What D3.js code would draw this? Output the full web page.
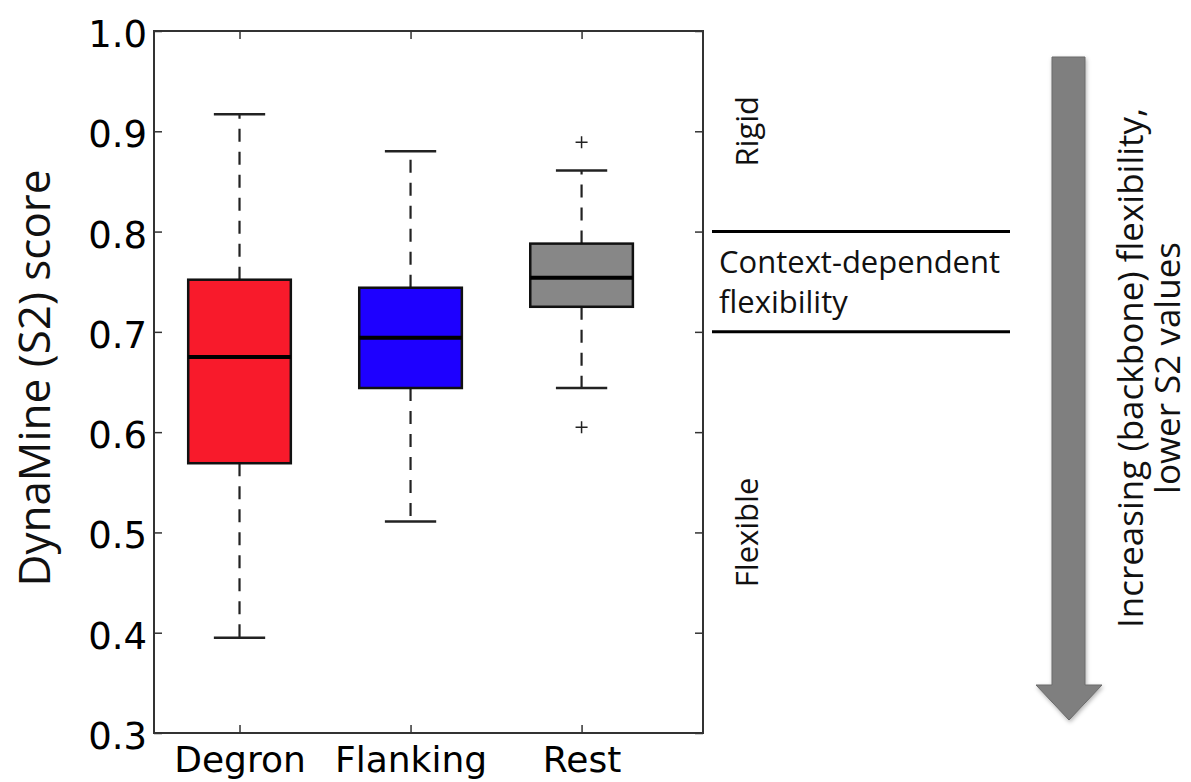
<!DOCTYPE html>
<html>
<head>
<meta charset="utf-8">
<script src="https://cdn.jsdelivr.net/npm/d3@7"></script>
<style>
    html, body { margin: 0; padding: 0; background: #fff; }
    #chart { width: 1191px; height: 782px; }
</style>
</head>
<body>
<div id="chart"></div>
<script>
// Data
const categories = ['Degron', 'Flanking', 'Rest'];
const whiskerLow = [0.395, 0.511, 0.644];
const q1 = [0.569, 0.644, 0.725];
const median = [0.675, 0.694, 0.754];
const q3 = [0.752, 0.744, 0.788];
const whiskerHigh = [0.917, 0.880, 0.861];
const outliers = [[], [], [0.889, 0.605]];
const yTicks = [0.3, 0.4, 0.5, 0.6, 0.7, 0.8, 0.9, 1.0];
const zoneBounds = [0.8, 0.7];
const zoneLabels = ['Rigid', 'Flexible'];
const zoneLabelValues = [0.9, 0.5];
const middleZoneLines = ['Context-dependent', 'flexibility'];
const arrowLines = ['Increasing (backbone) flexibility,', 'lower S2 values'];

const boxColors = ['#f81a2b', '#1e00ff', '#878787'];

const width = 1191;
const height = 782;
const frame = { left: 154, right: 703, top: 31, bottom: 733 };

const svg = d3.select('#chart')
    .append('svg')
    .attr('width', width)
    .attr('height', height)

const x = d3.scaleLinear()
    .domain([0.5, 3.71])
    .range([frame.left, frame.right])

const y = d3.scaleLinear()
    .domain([0.3, 1.0])
    .range([frame.bottom, frame.top])

const boxHalf = 0.3;
const capHalf = 0.15;

// boxes
const boxes = svg.append('g')
    .selectAll('g')
    .data(categories)
    .join('g')

// whiskers
boxes.append('line')
    .attr('x1', (d, i) => x(i + 1))
    .attr('x2', (d, i) => x(i + 1))
    .attr('y1', (d, i) => y(q3[i]))
    .attr('y2', (d, i) => y(whiskerHigh[i]))
    .attr('stroke', '#222')
    .attr('stroke-width', 2.2)
    .attr('stroke-dasharray', '13,10')

boxes.append('line')
    .attr('x1', (d, i) => x(i + 1))
    .attr('x2', (d, i) => x(i + 1))
    .attr('y1', (d, i) => y(q1[i]))
    .attr('y2', (d, i) => y(whiskerLow[i]))
    .attr('stroke', '#222')
    .attr('stroke-width', 2.2)
    .attr('stroke-dasharray', '13,10')

// caps
boxes.append('line')
    .attr('x1', (d, i) => x(i + 1 - capHalf))
    .attr('x2', (d, i) => x(i + 1 + capHalf))
    .attr('y1', (d, i) => y(whiskerHigh[i]))
    .attr('y2', (d, i) => y(whiskerHigh[i]))
    .attr('stroke', '#222')
    .attr('stroke-width', 2.5)

boxes.append('line')
    .attr('x1', (d, i) => x(i + 1 - capHalf))
    .attr('x2', (d, i) => x(i + 1 + capHalf))
    .attr('y1', (d, i) => y(whiskerLow[i]))
    .attr('y2', (d, i) => y(whiskerLow[i]))
    .attr('stroke', '#222')
    .attr('stroke-width', 2.5)

boxes.append('rect')
    .attr('x', (d, i) => x(i + 1 - boxHalf))
    .attr('width', (d, i) => x(i + 1 + boxHalf) - x(i + 1 - boxHalf))
    .attr('y', (d, i) => y(q3[i]))
    .attr('height', (d, i) => y(q1[i]) - y(q3[i]))
    .attr('fill', (d, i) => boxColors[i])
    .attr('stroke', '#111')
    .attr('stroke-width', 2.5)

// medians
boxes.append('line')
    .attr('x1', (d, i) => x(i + 1 - boxHalf))
    .attr('x2', (d, i) => x(i + 1 + boxHalf))
    .attr('y1', (d, i) => y(median[i]))
    .attr('y2', (d, i) => y(median[i]))
    .attr('stroke', '#000')
    .attr('stroke-width', 4)

// outliers
const fliers = outliers.flatMap((vals, i) => vals.map(v => ({ pos: i + 1, v })));
svg.append('g')
    .selectAll('path')
    .data(fliers)
    .join('path')
    .attr('transform', d => `translate(${x(d.pos)},${y(d.v)})`)
    .attr('d', 'M-6,0H6M0,-6V6')
    .attr('stroke', '#222')
    .attr('stroke-width', 1.5)

// frame
svg.append('rect')
    .attr('x', frame.left)
    .attr('y', frame.top)
    .attr('width', frame.right - frame.left)
    .attr('height', frame.bottom - frame.top)
    .attr('fill', 'none')
    .attr('stroke', '#333')
    .attr('stroke-width', 2)

// y axis
const yAxis = svg.append('g')
    .attr('transform', 'translate(' + frame.left + ',0)')
    .call(d3.axisLeft(y).tickValues(yTicks).tickFormat(d3.format('.1f')).tickSizeInner(-8).tickSizeOuter(0).tickPadding(7))

yAxis.select('.domain').remove()
yAxis.selectAll('line').attr('stroke', '#333').attr('stroke-width', 1.5)
yAxis.selectAll('text')
    .attr('dy', '0.42em')
    .style('font-size', '37px')
    .style('font-family', 'DejaVu Sans')
    .attr('fill', '#000')

const yRight = svg.append('g')
    .attr('transform', 'translate(' + frame.right + ',0)')
    .call(d3.axisRight(y).tickValues(yTicks).tickFormat('').tickSizeInner(-8).tickSizeOuter(0))
yRight.select('.domain').remove()
yRight.selectAll('line').attr('stroke', '#333').attr('stroke-width', 1.5)

// x axis
const xAxis = svg.append('g')
    .attr('transform', 'translate(0,' + frame.bottom + ')')
    .call(d3.axisBottom(x).tickValues([1, 2, 3]).tickFormat(d => categories[d - 1]).tickSizeInner(-8).tickSizeOuter(0).tickPadding(13))

xAxis.select('.domain').remove()
xAxis.selectAll('line').attr('stroke', '#333').attr('stroke-width', 1.5)
xAxis.selectAll('text')
    .style('font-size', '36px')
    .style('font-family', 'DejaVu Sans')
    .attr('fill', '#000')

const xTop = svg.append('g')
    .attr('transform', 'translate(0,' + frame.top + ')')
    .call(d3.axisTop(x).tickValues([1, 2, 3]).tickFormat('').tickSizeInner(-8).tickSizeOuter(0))
xTop.select('.domain').remove()
xTop.selectAll('line').attr('stroke', '#333').attr('stroke-width', 1.5)

// y label
svg.append('text')
    .attr('transform', 'translate(50,' + 378 + ') rotate(-90)')
    .attr('text-anchor', 'middle')
    .style('font-family', 'Open Sans')
    .style('font-size', '44px')
    .attr('fill', '#111')
    .text('DynaMine (S2) score')

// zone lines
svg.append('g')
    .selectAll('line')
    .data(zoneBounds)
    .join('line')
    .attr('x1', 712)
    .attr('x2', 1010)
    .attr('y1', d => y(d))
    .attr('y2', d => y(d))
    .attr('stroke', '#000')
    .attr('stroke-width', 3)

// zone labels
svg.append('g')
    .selectAll('text')
    .data(zoneLabels)
    .join('text')
    .attr('transform', (d, i) => 'translate(758,' + y(zoneLabelValues[i]) + ') rotate(-90)')
    .attr('text-anchor', 'middle')
    .style('font-family', 'Open Sans')
    .style('font-size', '31px')
    .attr('fill', '#111')
    .text(d => d)

svg.append('g')
    .selectAll('text')
    .data(middleZoneLines)
    .join('text')
    .attr('x', 719)
    .attr('y', (d, i) => 273 + i * 40)
    .style('font-family', 'Open Sans')
    .style('font-size', '31px')
    .attr('fill', '#111')
    .text(d => d)

// arrow
const defs = svg.append('defs');
const shadow = defs.append('filter').attr('id', 'shadow').attr('x', '-30%').attr('y', '-5%').attr('width', '160%').attr('height', '110%');
shadow.append('feDropShadow').attr('dx', 1).attr('dy', 2).attr('stdDeviation', 2).attr('flood-color', '#000').attr('flood-opacity', 0.3);

const arrow = d3.path();
arrow.moveTo(1052, 57);
arrow.lineTo(1085, 57);
arrow.lineTo(1085, 685);
arrow.lineTo(1102, 685);
arrow.lineTo(1069, 720);
arrow.lineTo(1036, 685);
arrow.lineTo(1052, 685);
arrow.closePath();

svg.append('path')
    .attr('d', arrow.toString())
    .attr('fill', '#7f7f7f')
    .attr('stroke', '#6a6a6a')
    .attr('stroke-width', 1)
    .attr('filter', 'url(#shadow)')

svg.append('g')
    .selectAll('text')
    .data(arrowLines)
    .join('text')
    .attr('transform', (d, i) => 'translate(' + (1143 + i * 37) + ',368) rotate(-90)')
    .attr('text-anchor', 'middle')
    .style('font-family', 'Open Sans')
    .style('font-size', '35px')
    .attr('fill', '#111')
    .text(d => d)
</script>
</body>
</html>
